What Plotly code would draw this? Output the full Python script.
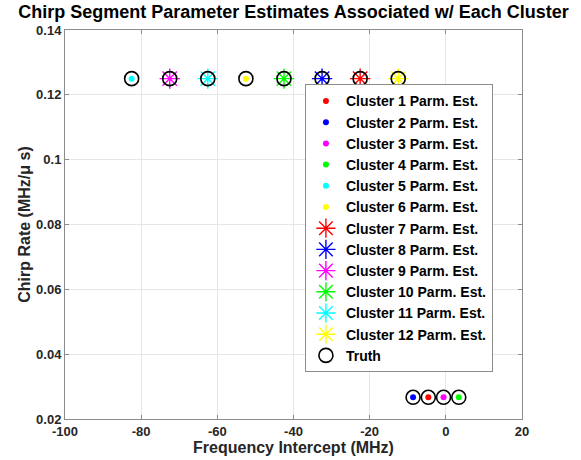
import plotly.graph_objects as go

# ---- data ----
cluster_names = [f"Cluster {i} Parm. Est." for i in range(1, 13)]
cluster_colors = ["#FF0000", "#0000FF", "#FF00FF", "#00FF00", "#00FFFF", "#FFFF00",
                  "#FF0000", "#0000FF", "#FF00FF", "#00FF00", "#00FFFF", "#FFFF00"]
cluster_freq = [[-4.6], [-8.6], [-0.6], [3.4], [-82.5], [-52.5],
                [-22.5], [-32.5], [-72.5], [-42.5], [-62.5], [-12.5]]
cluster_rate = [[0.0267], [0.0267], [0.0267], [0.0267], [0.125], [0.125],
                [0.125], [0.125], [0.125], [0.125], [0.125], [0.125]]

truth_freq = [-82.5, -72.5, -62.5, -52.5, -42.5, -32.5, -22.5, -12.5,
              -8.6, -4.6, -0.6, 3.4]
truth_rate = [0.125, 0.125, 0.125, 0.125, 0.125, 0.125, 0.125, 0.125,
              0.0267, 0.0267, 0.0267, 0.0267]

x_ticks = [-100, -80, -60, -40, -20, 0, 20]
x_ticktext = ["-100", "-80", "-60", "-40", "-20", "0", "20"]
y_ticks = [0.02, 0.04, 0.06, 0.08, 0.10, 0.12, 0.14]
y_ticktext = ["0.02", "0.04", "0.06", "0.08", "0.1", "0.12", "0.14"]

FONT = "Liberation Sans, Arial, sans-serif"
TXT = "#262626"

fig = go.Figure()

for i in range(12):
    if i < 6:
        marker = dict(symbol="circle", size=6, color=cluster_colors[i],
                      line=dict(width=0))
    else:
        marker = dict(symbol="asterisk-open", size=17, color=cluster_colors[i],
                      line=dict(color=cluster_colors[i], width=1.4))
    fig.add_trace(go.Scatter(x=cluster_freq[i], y=cluster_rate[i], mode="markers",
                             name=cluster_names[i], marker=marker))

fig.add_trace(go.Scatter(x=truth_freq, y=truth_rate, mode="markers", name="Truth",
                         marker=dict(symbol="circle-open", size=14, color="#000000",
                                     line=dict(color="#000000", width=1.6))))

axis_common = dict(showgrid=True, gridcolor="#E6E6E6", gridwidth=1,
                   showline=True, linecolor="#8C8C8C", linewidth=1, mirror="ticks",
                   ticks="inside", ticklen=4, tickcolor="#8C8C8C", zeroline=False,
                   tickfont=dict(family=FONT, size=13, color=TXT, weight="bold"))

fig.update_layout(
    width=581, height=460,
    margin=dict(l=65, r=59, t=30, b=41, autoexpand=False),
    paper_bgcolor="white", plot_bgcolor="white",
    font=dict(family=FONT, color=TXT, weight="bold"),
    title=dict(text="Chirp Segment Parameter Estimates Associated w/ Each Cluster",
               x=0.5, xref="paper", xanchor="center", y=1 - 12 / 460, yref="container",
               yanchor="middle",
               font=dict(family=FONT, size=18, color="#000000", weight="bold")),
    xaxis=dict(range=[-100, 20], tickvals=x_ticks, ticktext=x_ticktext,
               title=dict(text="Frequency Intercept (MHz)", standoff=1,
                          font=dict(family=FONT, size=16, color=TXT, weight="bold")),
               automargin=False, **axis_common),
    yaxis=dict(range=[0.02, 0.14], tickvals=y_ticks, ticktext=y_ticktext,
               title=dict(text="Chirp Rate (MHz/μ s)", standoff=1,
                          font=dict(family=FONT, size=16, color=TXT, weight="bold")),
               automargin=False, **axis_common),
    legend=dict(x=0.525, y=0.49, xanchor="left", yanchor="middle",
                bgcolor="white", bordercolor="#8C8C8C", borderwidth=1,
                font=dict(family=FONT, size=14, color="#000000", weight="bold"),
                itemsizing="trace"),
    showlegend=True,
)

fig.write_html("out.html")
